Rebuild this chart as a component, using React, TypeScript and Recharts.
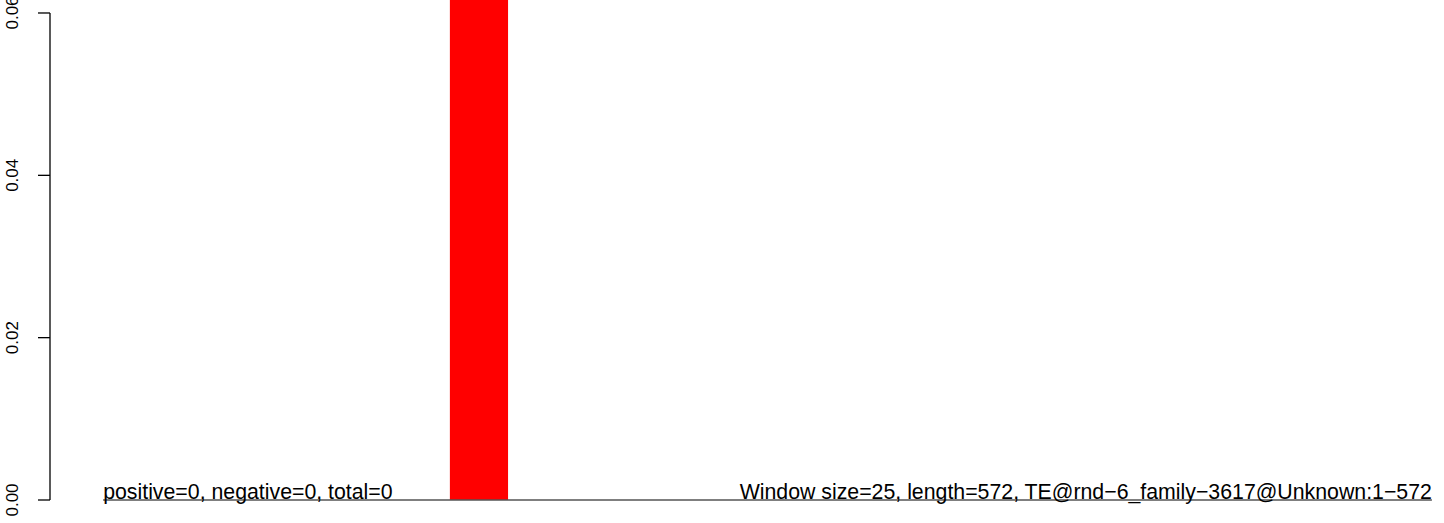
import React from 'react'
import { ComposedChart, Area, XAxis, YAxis, ReferenceLine } from 'recharts'

// sequence + sliding-window signal
const seqLength = 572
const positions = [1, 150, 175, seqLength]
const signal = [0, 0.08, 0, 0]

const yTicks = [0, 0.02, 0.04, 0.06]

const leftLabel = 'positive=0, negative=0, total=0'
const rightLabel = 'Window size=25, length=572, TE@rnd\u22126_family\u22123617@Unknown:1\u2212572'

const data = positions.map((pos, i) => ({ pos, value: signal[i] }))

// R-style 4% padding on x; the picture is cropped at the right and top
const pad = 0.04 * (seqLength - 1)
const xDomain: [number, number] = [1 - pad, 577.2]
const yDomain: [number, number] = [0, 0.0616]

const font = '"Liberation Sans", Arial, sans-serif'

const YTick = ({ x, y, payload }: any) => {
  const tx = x - 18
  return (
    <text
      x={tx}
      y={y}
      transform={`rotate(-90 ${tx} ${y})`}
      textAnchor="middle"
      fontSize={17}
      fill="#000"
    >
      {Number(payload.value).toFixed(2)}
    </text>
  )
}

// two captions sitting on the baseline, at both ends of the sequence
const BaselineLabels = (props: any) => {
  const vb = props.viewBox || {}
  const y = vb.y - 1
  return (
    <g>
      <text x={vb.x} y={y} textAnchor="start" fontSize={21.3} fill="#000">
        {leftLabel}
      </text>
      <text x={vb.x + vb.width} y={y} textAnchor="end" fontSize={21.3} fill="#000">
        {rightLabel}
      </text>
    </g>
  )
}

export default function App() {
  return (
    <div style={{ position: 'absolute', left: 0, top: 0, fontFamily: font, background: '#fff' }}>
      <ComposedChart
        width={1444}
        height={523}
        data={data}
        margin={{ top: 0, right: 0, bottom: 23, left: 0 }}
      >
        <XAxis dataKey="pos" type="number" domain={xDomain} allowDataOverflow hide />
        <YAxis
          type="number"
          domain={yDomain}
          allowDataOverflow
          ticks={yTicks}
          width={50}
          tickSize={12}
          axisLine={false}
          tickLine={{ stroke: '#000', strokeWidth: 1.3 }}
          tick={<YTick />}
        />

        <Area
          type="stepAfter"
          dataKey="value"
          stroke="none"
          fill="#ff0000"
          fillOpacity={1}
          isAnimationActive={false}
          dot={false}
          activeDot={false}
        />

        {/* y axis line only spans the labelled ticks */}
        <ReferenceLine
          segment={[
            { x: xDomain[0], y: yTicks[0] },
            { x: xDomain[0], y: yTicks[yTicks.length - 1] },
          ]}
          stroke="#000"
          strokeWidth={1.3}
          ifOverflow="visible"
        />

        {/* baseline over the sequence length */}
        <ReferenceLine
          segment={[
            { x: 1, y: 0 },
            { x: seqLength, y: 0 },
          ]}
          stroke="#555"
          strokeWidth={1.5}
          ifOverflow="visible"
          label={BaselineLabels}
        />
      </ComposedChart>
    </div>
  )
}
